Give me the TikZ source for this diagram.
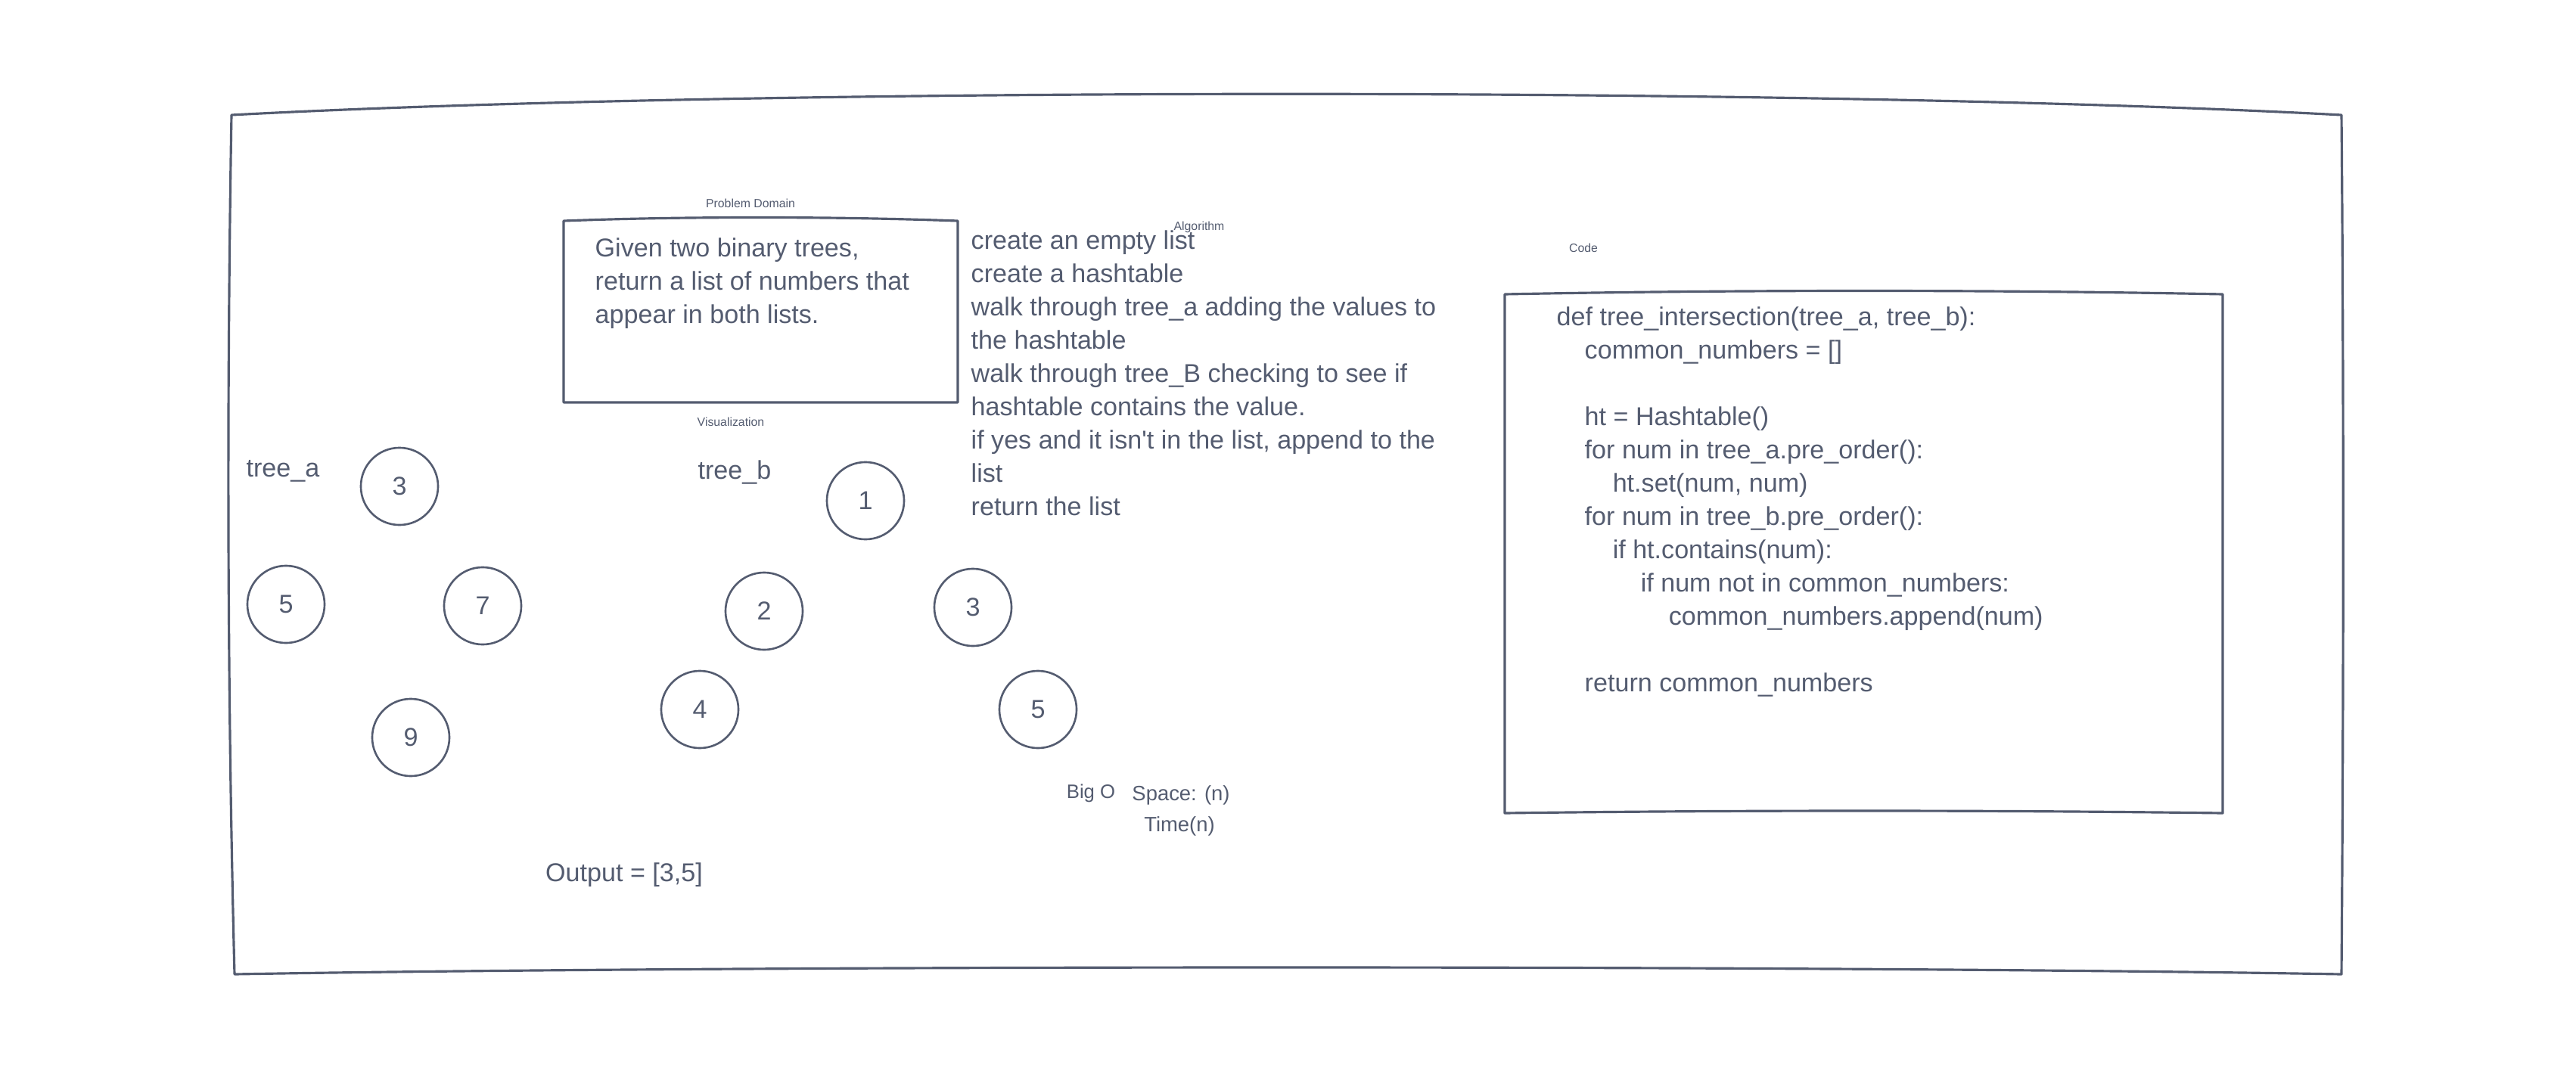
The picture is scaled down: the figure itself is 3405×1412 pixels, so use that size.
\documentclass[tikz,border=0pt]{standalone}
\usepackage{fontspec}
\setmainfont{Liberation Sans}
\definecolor{ink}{RGB}{84,92,112}
\tikzset{
    frame/.style={draw=ink, line width=0.9pt, line join=round},
    txt/.style={text=ink, inner sep=0pt, font=\fontsize{9.7}{12.5}\selectfont},
    caption/.style={text=ink, inner sep=0pt, font=\fontsize{4.5}{5.5}\selectfont},
    small/.style={text=ink, inner sep=0pt, font=\fontsize{7.8}{10}\selectfont},
    vertex/.style={circle, draw=ink, line width=0.75pt, minimum size=1.02cm, inner sep=0pt, text=ink, font=\fontsize{9.7}{12}\selectfont}
}

\begin{document}
\begin{tikzpicture}[x=0.01cm, y=-0.01cm]
    \useasboundingbox (0,0) rectangle (3405,1412);
    \draw[frame] (306,152) .. controls (1000,115) and (2400,115) .. (3095,152)
        .. controls (3098,500) and (3098,900) .. (3095,1288)
        .. controls (2400,1276) and (1000,1276) .. (310,1288)
        .. controls (300,900) and (300,500) .. (306,152) -- cycle;
    \draw[frame] (745,292) .. controls (900,286) and (1100,286) .. (1266,292) -- (1266,532) -- (745,532) -- cycle;
    \draw[frame] (1989,389) .. controls (2300,383) and (2630,383) .. (2938,389) -- (2938,1075) .. controls (2630,1071) and (2300,1071) .. (1989,1075) -- cycle;

    \node[caption] (pdlabel) at (992,269) {Problem Domain};
    \node[txt, align=left, anchor=base west] (problem) at (786,427)
        {Given two binary trees,\\ return a list of numbers that\\ appear in both lists.};
    \node[caption] (vislabel) at (966,558) {Visualization};
    \node[caption] (alglabel) at (1585,300) {Algorithm};
    \node[txt, align=left, anchor=base west] (algorithm) at (1283,681)
        {create an empty list\\ create a hashtable\\ walk through tree\_a adding the values to\\ the hashtable\\
         walk through tree\_B checking to see if\\ hashtable contains the value.\\
         if yes and it isn\textquotesingle t in the list, append to the\\ list\\ return the list};
    \node[caption] (codelabel) at (2093,328) {Code};
    \node[txt, align=left, anchor=base west] (code) at (2057,914)
        {def tree\_intersection(tree\_a, tree\_b):\\
         \hspace*{0.37cm}common\_numbers = {[]}\\[12.5pt]
         \hspace*{0.37cm}ht = Hashtable()\\
         \hspace*{0.37cm}for num in tree\_a.pre\_order():\\
         \hspace*{0.74cm}ht.set(num, num)\\
         \hspace*{0.37cm}for num in tree\_b.pre\_order():\\
         \hspace*{0.74cm}if ht.contains(num):\\
         \hspace*{1.11cm}if num not in common\_numbers:\\
         \hspace*{1.48cm}common\_numbers.append(num)\\[12.5pt]
         \hspace*{0.37cm}return common\_numbers};

    \node[txt] (treea) at (374,623) {tree\_a};
    \node[vertex] (a3) at (528,643) {3};
    \node[vertex] (a5) at (378,799) {5};
    \node[vertex] (a7) at (638,801) {7};
    \node[vertex] (a9) at (543,975) {9};

    \node[txt] (treeb) at (971,625) {tree\_b};
    \node[vertex] (b1) at (1144,662) {1};
    \node[vertex] (b2) at (1010,808) {2};
    \node[vertex] (b3) at (1286,803) {3};
    \node[vertex] (b4) at (925,938) {4};
    \node[vertex] (b5) at (1372,938) {5};

    \node[small, font=\fontsize{7.3}{9}\selectfont] (bigo) at (1442,1049) {Big O};
    \node[small] (space) at (1561,1051) {Space: (n)};
    \node[small] (time) at (1559,1092) {Time(n)};
    \node[txt] (output) at (825,1157) {Output = [3,5]};
\end{tikzpicture}
\end{document}
